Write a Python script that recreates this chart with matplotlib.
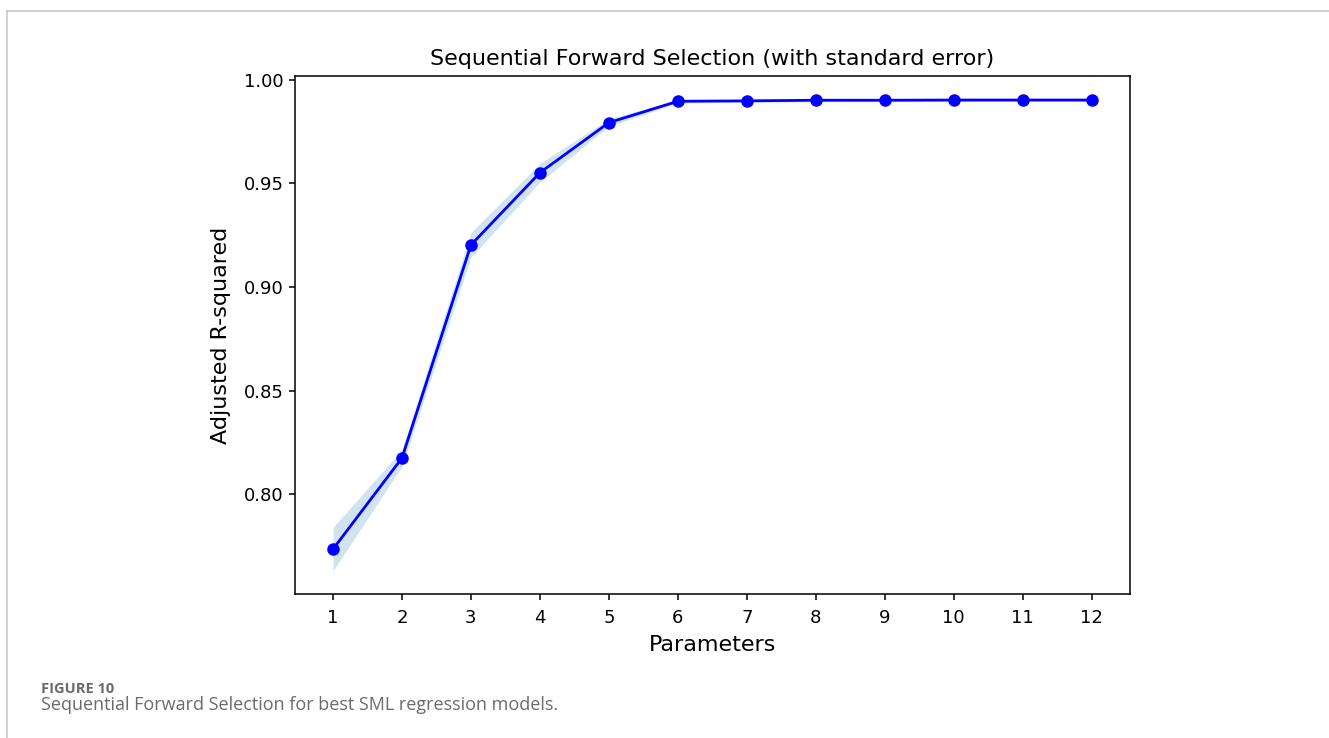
import numpy as np
import matplotlib
matplotlib.use("Agg")
import matplotlib.pyplot as plt
from matplotlib.lines import Line2D

# values
params = [1, 2, 3, 4, 5, 6, 7, 8, 9, 10, 11, 12]
adj_r2 = [0.7734, 0.8174, 0.9203, 0.9552, 0.9794, 0.9897, 0.9899, 0.9902, 0.9902, 0.9903, 0.9903, 0.9903]
std_err = [0.0105, 0.0040, 0.0060, 0.0045, 0.0018, 0.0008, 0.0007, 0.0007, 0.0007, 0.0007, 0.0007, 0.0007]

title = "Sequential Forward Selection (with standard error)"
caption_head = "FIGURE 10"
caption_text = "Sequential Forward Selection for best SML regression models."

x = np.array(params)
y = np.array(adj_r2)
se = np.array(std_err)

fig = plt.figure(figsize=(13.29, 7.38), dpi=100)
ax = fig.add_axes([0.222, 0.195, 0.628, 0.702])

ax.fill_between(x, y - se, y + se, color="C0", alpha=0.2, linewidth=0)
ax.plot(x, y, color="blue", marker="o", markersize=8, linewidth=2.0)

ax.set_xticks(params)
ax.set_yticks([0.80, 0.85, 0.90, 0.95, 1.00])
ax.set_xlim(0.45, 12.55)
ax.set_ylim(0.7517, 1.0019)
ax.tick_params(labelsize=13, length=4.5, width=1.1)
ax.tick_params(axis="x", pad=6)
for s in ax.spines.values():
    s.set_linewidth(1.1)

ax.set_title(title, fontsize=16, pad=8)
ax.set_xlabel("Parameters", fontsize=16, labelpad=6)
ax.set_ylabel("Adjusted R-squared", fontsize=16, labelpad=9)

# page frame around the figure
fig.add_artist(Line2D([7 / 1329, 1.0], [1 - 11 / 738, 1 - 11 / 738], color="#c8c8c8", linewidth=1.2))
fig.add_artist(Line2D([7 / 1329, 7 / 1329], [0.0, 1 - 11 / 738], color="#c8c8c8", linewidth=1.2))

fig.text(41 / 1329, 1 - 689 / 738, caption_head, fontsize=10.5, fontweight="bold",
         color="#6b6b6b", family=["Open Sans", "DejaVu Sans"], va="center")
fig.text(41 / 1329, 1 - 705 / 738, caption_text, fontsize=13,
         color="#6b6b6b", family=["Open Sans", "DejaVu Sans"], va="center")

fig.savefig("out.png", dpi=100)
